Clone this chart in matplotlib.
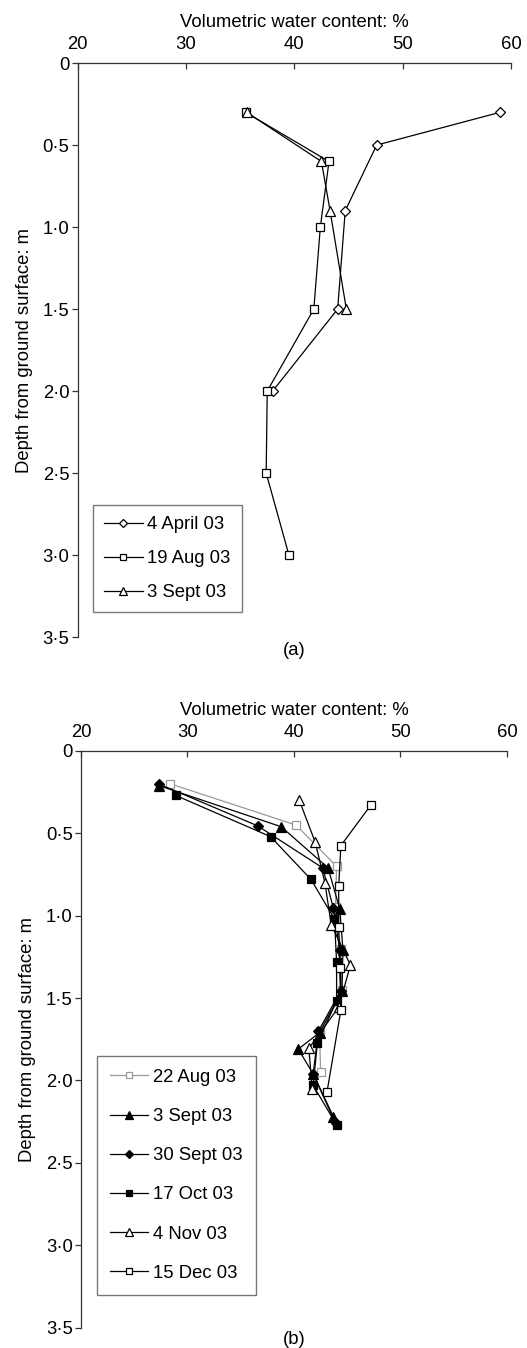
import matplotlib
matplotlib.use("Agg")
import matplotlib.pyplot as plt

plt.rcParams['font.family'] = ['Liberation Sans', 'DejaVu Sans']

# (a) moisture profiles
a_labels = ["4 April 03", "19 Aug 03", "3 Sept 03"]
a_depth_apr = [0.3, 0.5, 0.9, 1.5, 2.0]
a_wc_apr = [59.0, 47.6, 44.7, 44.0, 38.0]
a_depth_aug = [0.3, 0.6, 1.0, 1.5, 2.0, 2.5, 3.0]
a_wc_aug = [35.5, 43.2, 42.4, 41.8, 37.5, 37.4, 39.5]
a_depth_sep = [0.3, 0.6, 0.9, 1.5]
a_wc_sep = [35.6, 42.5, 43.3, 44.8]

# (b) moisture profiles
b_labels = ["22 Aug 03", "3 Sept 03", "30 Sept 03", "17 Oct 03", "4 Nov 03", "15 Dec 03"]
b_depth_aug22 = [0.2, 0.45, 0.7, 0.95, 1.2, 1.45, 1.7, 1.95]
b_wc_aug22 = [28.4, 40.2, 44.0, 43.9, 44.4, 44.5, 42.4, 42.5]
b_depth_sep3 = [0.21, 0.46, 0.71, 0.96, 1.21, 1.46, 1.71, 1.81, 1.96, 2.22]
b_wc_sep3 = [27.3, 38.8, 43.2, 44.3, 44.6, 44.5, 42.4, 40.4, 41.8, 43.7]
b_depth_sep30 = [0.2, 0.455, 0.71, 0.955, 1.21, 1.455, 1.70, 1.96, 2.26]
b_wc_sep30 = [27.3, 36.6, 42.7, 43.7, 44.3, 44.4, 42.3, 41.8, 43.9]
b_depth_oct = [0.27, 0.52, 0.78, 1.02, 1.28, 1.52, 1.77, 2.03, 2.27]
b_wc_oct = [28.9, 37.8, 41.6, 43.8, 44.0, 44.0, 42.2, 41.8, 44.0]
b_depth_nov = [0.30, 0.555, 0.80, 1.055, 1.30, 1.555, 1.805, 2.05]
b_wc_nov = [40.5, 42.0, 42.9, 43.5, 45.3, 44.2, 41.4, 41.7]
b_depth_dec = [0.33, 0.575, 0.82, 1.07, 1.32, 1.575, 2.07]
b_wc_dec = [47.2, 44.4, 44.2, 44.2, 44.3, 44.4, 43.1]

xticks = [20, 30, 40, 50, 60]
yticks = [0, 0.5, 1.0, 1.5, 2.0, 2.5, 3.0, 3.5]
ytick_labels = ["0", "0·5", "1·0", "1·5", "2·0", "2·5", "3·0", "3·5"]

fs = 13.3
axcol = "#333333"

fig = plt.figure(figsize=(5.27, 13.48), dpi=100)
ax1 = fig.add_axes([0.1474, 0.5274, 0.8222, 0.4258])
ax2 = fig.add_axes([0.1537, 0.0152, 0.8083, 0.4277])


def style_axis(ax):
    ax.set_xlim(20, 60)
    ax.set_ylim(3.5, 0)
    ax.xaxis.tick_top()
    ax.xaxis.set_label_position("top")
    ax.set_xticks(xticks)
    ax.set_yticks(yticks)
    ax.set_yticklabels(ytick_labels)
    for s in ["right", "bottom"]:
        ax.spines[s].set_visible(False)
    for s in ["top", "left"]:
        ax.spines[s].set_color(axcol)
        ax.spines[s].set_linewidth(0.9)
    ax.tick_params(axis="x", direction="in", length=4, width=0.9, color=axcol,
                   labelsize=fs, pad=7)
    ax.tick_params(axis="y", direction="out", length=4, width=0.9, color=axcol,
                   labelsize=fs, pad=2)
    ax.set_xlabel("Volumetric water content: %", fontsize=fs, labelpad=7)
    ax.set_ylabel("Depth from ground surface: m", fontsize=fs, labelpad=7)


style_axis(ax1)
style_axis(ax2)

kw = dict(color="black", lw=0.9, markersize=6, markeredgewidth=0.9)

ax1.plot(a_wc_apr, a_depth_apr, marker="D", mfc="white", label=a_labels[0],
         **dict(kw, markersize=5))
ax1.plot(a_wc_aug, a_depth_aug, marker="s", mfc="white", label=a_labels[1], **kw)
ax1.plot(a_wc_sep, a_depth_sep, marker="^", mfc="white", label=a_labels[2],
         **dict(kw, markersize=7))

leg1 = ax1.legend(loc="upper left", bbox_to_anchor=(0.035, 0.23), borderaxespad=0,
                  fontsize=fs, fancybox=False, edgecolor="#555555",
                  handlelength=2.1, labelspacing=0.92, handletextpad=0.25,
                  borderpad=0.6, markerscale=0.75)
leg1.get_frame().set_linewidth(1.0)

ax2.plot(b_wc_aug22, b_depth_aug22, marker="s", mfc="white", mec="#999999",
         label=b_labels[0], **dict(kw, color="#999999"))
ax2.plot(b_wc_sep3, b_depth_sep3, marker="^", mfc="black", label=b_labels[1],
         **dict(kw, markersize=7))
ax2.plot(b_wc_sep30, b_depth_sep30, marker="D", mfc="black", label=b_labels[2],
         **dict(kw, markersize=5))
ax2.plot(b_wc_oct, b_depth_oct, marker="s", mfc="black", label=b_labels[3], **kw)
ax2.plot(b_wc_nov, b_depth_nov, marker="^", mfc="white", label=b_labels[4],
         **dict(kw, markersize=7))
ax2.plot(b_wc_dec, b_depth_dec, marker="s", mfc="white", label=b_labels[5], **kw)

leg2 = ax2.legend(loc="upper left", bbox_to_anchor=(0.037, 0.471), borderaxespad=0,
                  fontsize=fs, fancybox=False, edgecolor="#555555",
                  handlelength=2.1, labelspacing=1.2, handletextpad=0.25,
                  borderpad=0.7, markerscale=0.75)
leg2.get_frame().set_linewidth(1.0)

fig.text(294 / 527, 1 - 650 / 1348, "(a)", ha="center", va="center", fontsize=fs)
fig.text(294 / 527, 1 - 1339 / 1348, "(b)", ha="center", va="center", fontsize=fs)

fig.savefig("out.png", dpi=100)
